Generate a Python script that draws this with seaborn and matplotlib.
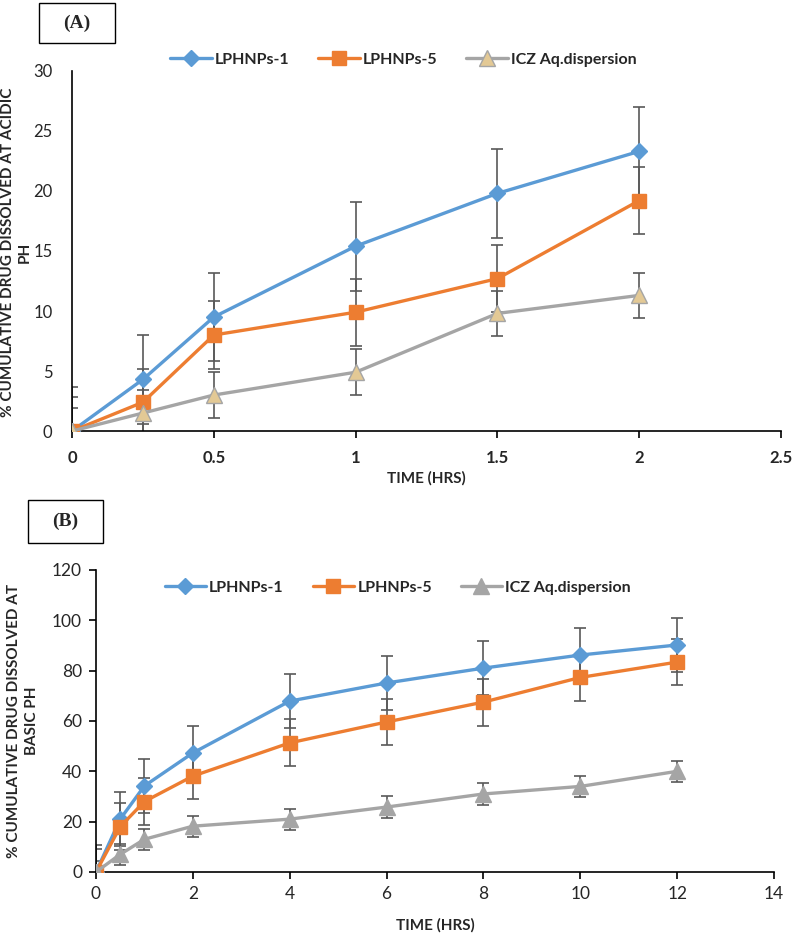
import matplotlib
matplotlib.use("Agg")
import matplotlib.pyplot as plt
from matplotlib.patches import Rectangle
import seaborn as sns
import pandas as pd

# ---- data: panel A (acidic pH) ----
time_a = [0, 0.25, 0.5, 1, 1.5, 2]
lph1_a = [0, 4.3, 9.5, 15.4, 19.8, 23.3]
lph5_a = [0, 2.4, 8.0, 9.9, 12.7, 19.2]
icz_a = [0, 1.5, 3.0, 4.9, 9.8, 11.3]
lph1_a_err = [3.7, 3.7, 3.7, 3.7, 3.7, 3.7]
lph5_a_err = [2.8, 2.8, 2.8, 2.8, 2.8, 2.8]
icz_a_err = [1.9, 1.9, 1.9, 1.9, 1.9, 1.9]

# ---- data: panel B (basic pH) ----
time_b = [0, 0.5, 1, 2, 4, 6, 8, 10, 12]
lph1_b = [0, 21.0, 34.2, 47.3, 67.9, 75.1, 81.0, 86.2, 90.2]
lph5_b = [0, 18.0, 28.0, 38.1, 51.3, 59.6, 67.5, 77.3, 83.4]
icz_b = [0, 7.0, 13.0, 18.2, 21.0, 25.8, 31.0, 34.0, 40.0]
lph1_b_err = [10.6, 10.6, 10.6, 10.6, 10.6, 10.6, 10.6, 10.6, 10.6]
lph5_b_err = [9.3, 9.3, 9.3, 9.3, 9.3, 9.3, 9.3, 9.3, 9.3]
icz_b_err = [4.2, 4.2, 4.2, 4.2, 4.2, 4.2, 4.2, 4.2, 4.2]

series_names = ['LPHNPs-1', 'LPHNPs-5', 'ICZ Aq.dispersion']

BLUE = '#5B9BD5'
ORANGE = '#ED7D31'
GRAY = '#A5A5A5'
ERR = '#595959'

sns.set_style('white')
plt.rcParams['font.family'] = ['Lato', 'DejaVu Sans']

fig = plt.figure(figsize=(7.94, 9.33), dpi=100)
ax_a = fig.add_axes([0.0907, 0.538, 0.893, 0.386])
ax_b = fig.add_axes([0.1209, 0.0654, 0.854, 0.3237])


def draw_panel(ax, t, ys, errs, tri_face):
    styles = [
        dict(color=BLUE, marker='D', markersize=8, mfc=BLUE, mec=BLUE),
        dict(color=ORANGE, marker='s', markersize=10, mfc=ORANGE, mec=ORANGE),
        dict(color=GRAY, marker='^', markersize=11, mfc=tri_face, mec=GRAY),
    ]
    for name, y, e, st in zip(series_names, ys, errs, styles):
        ax.errorbar(t, y, yerr=e, fmt='none', ecolor=ERR, elinewidth=1.2,
                    capsize=4, capthick=1.2, zorder=2)
        df = pd.DataFrame({'time': t, 'value': y})
        sns.lineplot(data=df, x='time', y='value', ax=ax, label=name,
                     color=st['color'], marker=st['marker'],
                     markersize=st['markersize'], markerfacecolor=st['mfc'],
                     markeredgecolor=st['mec'], markeredgewidth=1.0,
                     linewidth=2.4, zorder=3)
    for s in ['top', 'right']:
        ax.spines[s].set_visible(False)
    for s in ['left', 'bottom']:
        ax.spines[s].set_color('black')
        ax.spines[s].set_linewidth(1.2)
    ax.set_xlabel('')
    ax.set_ylabel('')
    ax.get_legend().remove()


# panel A
draw_panel(ax_a, time_a, [lph1_a, lph5_a, icz_a],
           [lph1_a_err, lph5_a_err, icz_a_err], '#E3C995')
ax_a.set_xlim(0, 2.5)
ax_a.set_ylim(0, 30)
ax_a.set_xticks([0, 0.5, 1, 1.5, 2, 2.5])
ax_a.set_xticklabels(['0', '0.5', '1', '1.5', '2', '2.5'], fontweight='bold')
ax_a.set_yticks([0, 5, 10, 15, 20, 25, 30])
ax_a.tick_params(axis='x', direction='out', length=5, width=1.2, color='black',
                 labelsize=12, pad=9, bottom=True)
ax_a.tick_params(axis='y', length=0, labelsize=12, pad=14)
ax_a.set_xlabel('TIME (HRS)', fontsize=11, fontweight='bold', labelpad=3)
fig.text(0.0205, 0.73, '% CUMULATIVE DRUG DISSOLVED AT ACIDIC\nPH', rotation=90,
         ha='center', va='center', multialignment='center', fontsize=11,
         fontweight='bold', linespacing=1.3)

# panel B
draw_panel(ax_b, time_b, [lph1_b, lph5_b, icz_b],
           [lph1_b_err, lph5_b_err, icz_b_err], GRAY)
ax_b.set_xlim(0, 14)
ax_b.set_ylim(0, 120)
ax_b.set_xticks(range(0, 15, 2))
ax_b.set_yticks(range(0, 121, 20))
ax_b.tick_params(axis='both', direction='out', length=5, width=1.2,
                 color='black', labelsize=12.5, pad=5, bottom=True, left=True)
ax_b.set_xlabel('TIME (HRS)', fontsize=11, fontweight='bold', labelpad=12)
fig.text(0.029, 0.227, '% CUMULATIVE DRUG DISSOLVED AT\nBASIC PH', rotation=90,
         ha='center', va='center', multialignment='center', fontsize=11,
         fontweight='bold', linespacing=1.35)

# legends
for ax, ypos, xc in [(ax_a, 0.9357, 0.508), (ax_b, 0.370, 0.501)]:
    handles, labels = ax.get_legend_handles_labels()
    fig.legend(handles, labels, loc='center', bbox_to_anchor=(xc, ypos),
               ncol=3, frameon=False, handlelength=2.6, handletextpad=0.2,
               columnspacing=1.8, prop={'family': 'Lato', 'weight': 'bold',
                                        'size': 11.5})

# panel tags
for (x0, y0, w, h, tag) in [(39, 3, 76, 40, '(A)'), (28, 500, 75, 43, '(B)')]:
    fig.patches.append(Rectangle((x0 / 794, 1 - (y0 + h) / 933), w / 794, h / 933,
                                 transform=fig.transFigure, fill=False,
                                 edgecolor='black', linewidth=1.0))
    fig.text((x0 + w / 2) / 794, 1 - (y0 + h / 2) / 933, tag, ha='center',
             va='center', fontsize=14, fontweight='bold',
             family='Liberation Serif')

fig.savefig('out.png', dpi=100)
